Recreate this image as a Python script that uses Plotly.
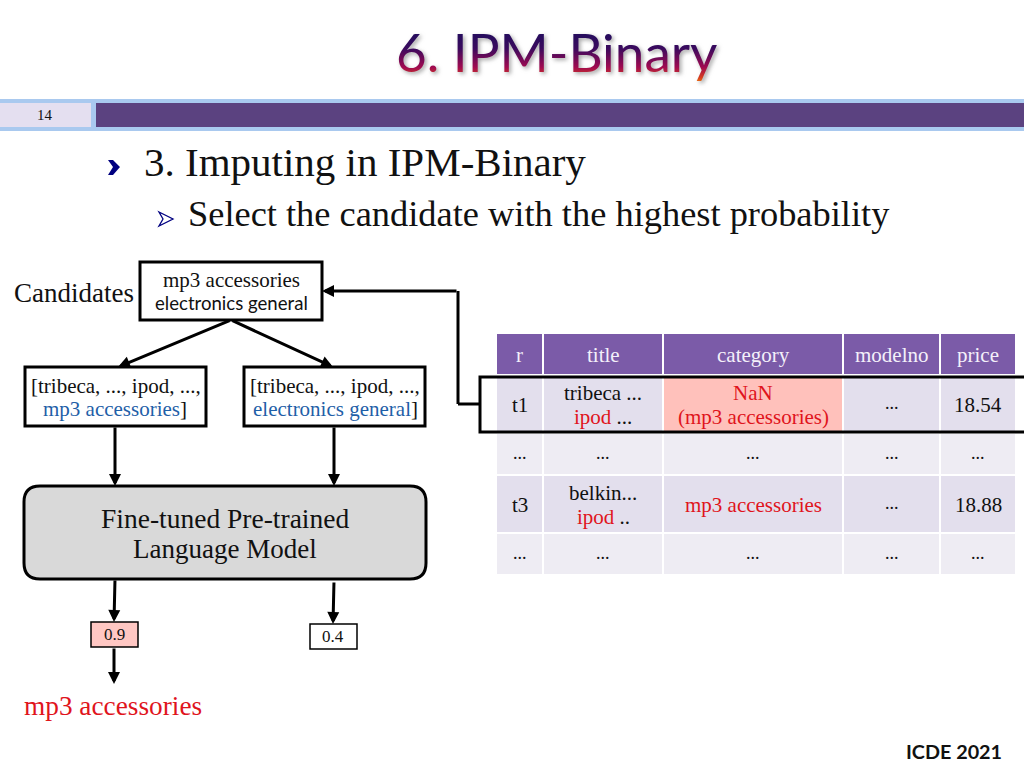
import plotly.graph_objects as go

# ---- slide text / table content ----
title_text = "6. IPM-Binary"
page_number = "14"
heading = "3. Imputing in IPM-Binary"
subheading = "Select the candidate with the highest probability"
footer = "ICDE 2021"

RED = "#e0141c"
BLUE = "#1f5fa8"
def red(s): return f'<span style="color:{RED}">{s}</span>'
def blue(s): return f'<span style="color:{BLUE}">{s}</span>'

table_columns = ["r", "title", "category", "modelno", "price"]
row_t1 = ["t1", ["tribeca ...", red("ipod") + " ..."], [red("NaN"), red("(mp3 accessories)")], "...", "18.54"]
row_a = ["...", "...", "...", "...", "..."]
row_t3 = ["t3", ["belkin...", red("ipod") + " .."], red("mp3 accessories"), "...", "18.88"]
row_b = ["...", "...", "...", "...", "..."]
table_rows = [row_t1, row_a, row_t3, row_b]

col_edges = [(497, 542), (544, 662), (664, 842), (844, 939), (941, 1015)]
row_edges = [(376, 432), (434, 474), (476, 532), (534, 574)]
row_fills = ["#e3dfed", "#eeecf3", "#e3dfed", "#eeecf3"]

SERIF = "Liberation Serif"
SANS = "Lato"
shapes, annos = [], []

def rect(x0, y0, x1, y1, fill=None, line=None, width=0):
    shapes.append(dict(type="rect", x0=x0, y0=y0, x1=x1, y1=y1, layer="below",
                       fillcolor=fill or "rgba(0,0,0,0)",
                       line=dict(color=line or "rgba(0,0,0,0)", width=width)))

def text(x, y, s, size, color="#111111", family=SERIF, anchor="center"):
    annos.append(dict(x=x, y=y, text=s, showarrow=False, xanchor=anchor, yanchor="middle",
                      font=dict(size=size, color=color, family=family)))

def arrow(x0, y0, x1, y1):
    annos.append(dict(x=x1, y=y1, ax=x0, ay=y0, xref="x", yref="y", axref="x", ayref="y",
                      text="", showarrow=True, arrowhead=2, arrowsize=0.8, arrowwidth=3,
                      arrowcolor="#000000", standoff=0, startstandoff=0))

def line(points, width=3):
    for (a, b), (c, d) in zip(points, points[1:]):
        shapes.append(dict(type="line", x0=a, y0=b, x1=c, y1=d,
                           line=dict(color="#000000", width=width)))

# ---- header band ----
rect(0, 99, 1024, 131, "#a9c9ef")
rect(0, 103, 91, 127, "#e4dff0")
rect(96, 103, 1024, 127, "#5b4280")
text(45, 115, page_number, 15)
text(556, 51, title_text, 53, "#3a0a5e", SANS)

# ---- bullets ----
shapes.append(dict(type="path", path="M108,160 L113,160 L120,167 L113,175 L108,175 L113,167 Z",
                   fillcolor="#000080", line=dict(width=0)))
shapes.append(dict(type="path", path="M159,212 L173,219 L159,226 L163,219 Z",
                   fillcolor="#ffffff", line=dict(color="#000080", width=1.3)))
text(142, 162, heading, 41, anchor="left")
text(186, 214, subheading, 36.4, anchor="left")

# ---- flow diagram ----
text(12, 293, "Candidates", 27, anchor="left")
rect(140, 262, 322, 320, "#ffffff", "#000000", 3)
text(231, 280, "mp3 accessories", 21)
text(231, 303, "electronics general", 18.6, family=SANS)

rect(25, 367, 206, 426, "#ffffff", "#000000", 3)
rect(244, 367, 425, 426, "#ffffff", "#000000", 3)
text(116, 386, "[tribeca, ..., ipod, ...,", 21)
text(115, 409, blue("mp3 accessories") + "]", 21)
text(335, 386, "[tribeca, ..., ipod, ...,", 21)
text(335, 409, blue("electronics general") + "]", 21)

shapes.append(dict(type="path", layer="below",
    path="M40,486 L410,486 Q426,486 426,502 L426,563 Q426,579 410,579 L40,579 Q24,579 24,563 L24,502 Q24,486 40,486 Z",
    fillcolor="#d9d9d9", line=dict(color="#000000", width=3)))
text(225, 518, "Fine-tuned Pre-trained", 27.5)
text(225, 549, "Language Model", 27)

arrow(231, 320, 118, 367)
arrow(231, 320, 333, 367)
arrow(115, 426, 115, 486)
arrow(334, 426, 334, 486)
arrow(115, 579, 114, 622)
arrow(334, 581, 333, 624)
arrow(114, 647, 114, 684)

rect(91, 622, 138, 647, "#ffc7c3", "#000000", 1.5)
rect(310, 624, 357, 649, "#ffffff", "#000000", 1.5)
text(114, 634, "0.9", 17)
text(333, 636, "0.4", 17)
text(22, 706, "mp3 accessories", 27.3, RED, anchor="left")
text(1004, 751, "<b>" + footer + "</b>", 19.8, "#111111", SANS, anchor="right")

# ---- table ----
for (x0, x1), name in zip(col_edges, table_columns):
    rect(x0, 334, x1, 374, "#7b5ba8")
    text((x0 + x1) / 2, 355, name, 21, "#f4f0fa")
for r, (row, (y0, y1)) in enumerate(zip(table_rows, row_edges)):
    for c, (x0, x1) in enumerate(col_edges):
        fill = "#ffc1bb" if (r == 0 and c == 2) else row_fills[r]
        rect(x0, y0, x1, y1, fill)
        cell = row[c]
        mid = (y0 + y1) / 2
        if isinstance(cell, list):
            text((x0 + x1) / 2, mid - 11, cell[0], 21)
            text((x0 + x1) / 2, mid + 13, cell[1], 21)
        elif cell == "...":
            text((x0 + x1) / 2, mid - 1, cell, 18)
        else:
            text((x0 + x1) / 2, mid + 1, cell, 21)

rect(480, 377, 1030, 432, None, "#000000", 3)
line([(480, 404), (458, 404), (458, 291)])
arrow(458, 291, 322, 291)

fig = go.Figure()
fig.update_layout(
    width=1024, height=768, margin=dict(l=0, r=0, t=0, b=0),
    paper_bgcolor="#ffffff", plot_bgcolor="#ffffff", showlegend=False,
    xaxis=dict(range=[0, 1024], visible=False, fixedrange=True),
    yaxis=dict(range=[768, 0], visible=False, fixedrange=True),
    shapes=shapes, annotations=annos,
)

post = """
document.body.style.margin='0';
var gd=document.querySelector('.plotly-graph-div');
var svg=gd.querySelector('svg.main-svg');
var ns='http://www.w3.org/2000/svg';
var defs=document.createElementNS(ns,'defs');
var g=document.createElementNS(ns,'linearGradient');
g.setAttribute('id','titlegrad');g.setAttribute('x1','0');g.setAttribute('y1','0');g.setAttribute('x2','0');g.setAttribute('y2','1');
[['0','#12105c'],['0.45','#3a0a5e'],['0.75','#a00a50'],['0.92','#d8401c'],['1','#f08010']].forEach(function(s){
 var st=document.createElementNS(ns,'stop');st.setAttribute('offset',s[0]);st.setAttribute('stop-color',s[1]);g.appendChild(st);});
defs.appendChild(g);svg.appendChild(defs);
gd.querySelectorAll('text').forEach(function(t){
 if(t.textContent.indexOf('6. IPM')===0){
  t.style.fill='url(#titlegrad)';
  t.style.filter='drop-shadow(2px 2px 2px rgba(90,90,90,.55))';
 }});
"""
fig.write_html("out.html", post_script=post, config={"displayModeBar": False})
